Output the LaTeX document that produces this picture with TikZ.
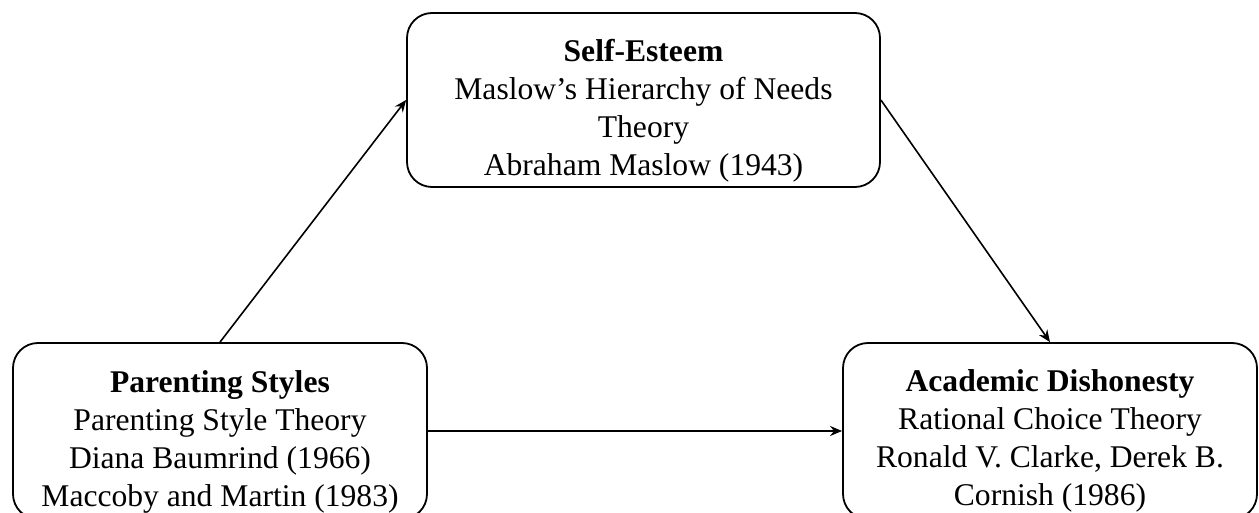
\documentclass[tikz,border=0pt]{standalone}
\usepackage{fontspec}
\setmainfont{Liberation Serif}
\usetikzlibrary{arrows.meta,positioning}
\begin{document}
\begin{tikzpicture}[x=0.5pt,y=-0.5pt,
  box/.style={draw,line width=0.9pt,rounded corners=12.5pt,minimum width=207pt,minimum height=88pt,inner sep=0pt},
  txt/.style={align=center,inner sep=0pt,font=\fontsize{15.8}{19}\selectfont},
  link/.style={-{Stealth[length=6pt,width=5pt]},line width=0.8pt}]
\useasboundingbox (0,0) rectangle (1259,513);
\node[box,minimum width=236.5pt,minimum height=87pt] (esteem) at (643.5,100) {};
\node[box] (parenting) at (220,431) {};
\node[box] (dishonesty) at (1050,431) {};

\node[txt,below=13.6pt of esteem.north] (esteemtxt) {\textbf{Self-Esteem}\\Maslow’s Hierarchy of Needs\\Theory\\Abraham Maslow (1943)};
\node[txt,below=14pt of parenting.north] (parentingtxt) {\textbf{Parenting Styles}\\Parenting Style Theory\\Diana Baumrind (1966)\\Maccoby and Martin (1983)};
\node[txt,below=13.6pt of dishonesty.north] (dishonestytxt) {\textbf{Academic Dishonesty}\\Rational Choice Theory\\Ronald V. Clarke, Derek B.\\Cornish (1986)};

\draw[link] (parenting.north) -- (esteem.west);
\draw[link] (esteem.east) -- (dishonesty.north);
\draw[link] (parenting.east) -- (dishonesty.west);
\end{tikzpicture}
\end{document}
